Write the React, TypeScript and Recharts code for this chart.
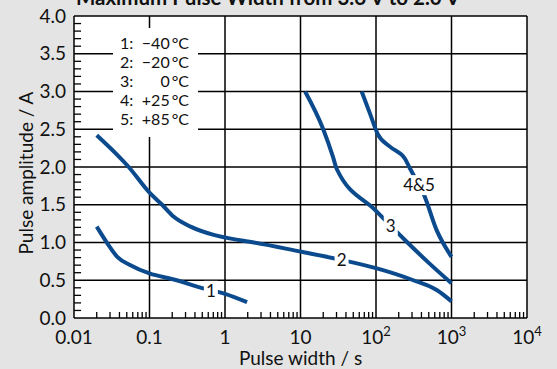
import React from 'react';
import {
  LineChart, Line, XAxis, YAxis, CartesianGrid, ReferenceDot, ReferenceLine, Customized,
} from 'recharts';

// pulse width in s, amplitude in A
const curve1 = [
  { x: 0.02, y: 1.21 }, { x: 0.0276, y: 0.99 }, { x: 0.0374, y: 0.81 },
  { x: 0.056, y: 0.7 }, { x: 0.1, y: 0.59 }, { x: 0.21, y: 0.51 },
  { x: 0.53, y: 0.39 }, { x: 1, y: 0.32 }, { x: 1.96, y: 0.21 },
];
const curve2 = [
  { x: 0.02, y: 2.42 }, { x: 0.0357, y: 2.18 }, { x: 0.053, y: 2.0 },
  { x: 0.1, y: 1.66 }, { x: 0.147, y: 1.5 }, { x: 0.21, y: 1.34 },
  { x: 0.35, y: 1.21 }, { x: 0.71, y: 1.1 }, { x: 1.58, y: 1.03 },
  { x: 2.41, y: 1.0 }, { x: 10, y: 0.88 }, { x: 35, y: 0.77 },
  { x: 100, y: 0.66 }, { x: 312, y: 0.5 }, { x: 637, y: 0.37 }, { x: 1000, y: 0.22 },
];
const curve3 = [
  { x: 11.5, y: 3.0 }, { x: 20, y: 2.5 }, { x: 27, y: 2.13 }, { x: 30, y: 1.98 },
  { x: 100, y: 1.42 }, { x: 157, y: 1.22 }, { x: 255, y: 1.01 },
  { x: 500, y: 0.73 }, { x: 1000, y: 0.46 },
];
const curve45 = [
  { x: 64.6, y: 3.0 }, { x: 83, y: 2.71 }, { x: 105, y: 2.44 }, { x: 153, y: 2.27 },
  { x: 242, y: 2.11 }, { x: 282, y: 1.98 }, { x: 372, y: 1.76 }, { x: 424, y: 1.65 },
  { x: 637, y: 1.16 }, { x: 1000, y: 0.81 },
];

// curve labels sitting on the lines
const curveLabels = [
  { x: 0.65, y: 0.36, text: '1' },
  { x: 35, y: 0.77, text: '2' },
  { x: 157, y: 1.22, text: '3' },
  { x: 372, y: 1.76, text: '4&5' },
];

const legendRows = [
  { key: '1:', temp: '\u221240\u2009\u00b0C' },
  { key: '2:', temp: '\u221220\u2009\u00b0C' },
  { key: '3:', temp: '0\u2009\u00b0C' },
  { key: '4:', temp: '+25\u2009\u00b0C' },
  { key: '5:', temp: '+85\u2009\u00b0C' },
];

const xTicks = [0.01, 0.1, 1, 10, 100, 1000, 10000];
const xTickLabels = ['0.01', '0.1', '1', '10', '10^2', '10^3', '10^4'];
const yTicks = [0, 0.5, 1, 1.5, 2, 2.5, 3, 3.5, 4];

// minor ticks (drawn inward from the bottom and left frame)
const xMinor = xTicks.slice(0, -1).flatMap((d) => [2, 3, 4, 5, 6, 7, 8, 9].map((m) => m * d));
const yMinor = Array.from({ length: 39 }, (_, i) => (i + 1) / 10).filter((v) => !yTicks.includes(Math.round(v * 10) / 10));
const X_TICK_LEN = 0.08; // in A
const Y_TICK_END = 0.0124; // in s (about 7 px from the left frame)

const FONT = 'Lato, sans-serif';
const BLUE = '#0b4a8c';

const XTick = (props: any) => {
  const { x, y, payload } = props;
  const label = xTickLabels[xTicks.indexOf(payload.value)] ?? '';
  const [base, sup] = label.split('^');
  return (
    <text x={x} y={y + 26} textAnchor="middle" fontSize={19} fill="#111" fontFamily={FONT}>
      {base}
      {sup && <tspan dy={-8} fontSize={13}>{sup}</tspan>}
    </text>
  );
};

const LabelMark = (text: string) => (props: any) => {
  const { cx, cy } = props;
  const w = text.length * 10 + 4;
  return (
    <g>
      <rect x={cx - w / 2} y={cy - 10} width={w} height={20} fill="#fff" />
      <text x={cx} y={cy + 6} textAnchor="middle" fontSize={17} fill="#111" fontFamily={FONT}>{text}</text>
    </g>
  );
};

const Decorations = () => (
  <g fontFamily={FONT} fill="#111">
    <text x={268} y={5} textAnchor="middle" fontSize={20.5} fontWeight="bold">
      Maximum Pulse Width from 3.6 V to 2.0 V
    </text>
    <text x={33} y={173} textAnchor="middle" fontSize={19} transform="rotate(-90 33 173)">
      Pulse amplitude / A
    </text>
    <rect x={113} y={28} width={85} height={109} fill="#fff" />
    {legendRows.map((r, i) => (
      <g key={r.key} fontSize={16}>
        <text x={120} y={49 + i * 19}>{r.key}</text>
        <text x={189} y={49 + i * 19} textAnchor="end">{r.temp}</text>
      </g>
    ))}
  </g>
);

export default function App() {
  return (
    <div style={{ position: 'absolute', left: 0, top: 0, width: 557, height: 369, background: '#e3e4e3' }}>
      <LineChart width={557} height={369}
        margin={{ top: 16, right: 30, bottom: 0, left: 14 }}>
        <CartesianGrid xAxisId="main" yAxisId="main" fill="#fff" stroke="#000" strokeWidth={1.5} />
        <XAxis xAxisId="main" dataKey="x" type="number" scale="log" domain={[0.01, 10000]}
          ticks={xTicks} allowDataOverflow height={51} axisLine={false}
          tickLine={false} tickSize={0} tickMargin={0} tick={<XTick />}
          label={{ value: 'Pulse width / s', position: 'insideBottom', offset: 4, fontSize: 19, fill: '#111', fontFamily: FONT }} />
        <YAxis yAxisId="main" type="number" domain={[0, 4]} ticks={yTicks} width={60}
          axisLine={false} tickLine={false} tickSize={0} tickMargin={8}
          tick={{ fontSize: 19, fill: '#111', fontFamily: FONT }}
          tickFormatter={(v) => v.toFixed(1)} />
        {xMinor.map((m) => (
          <ReferenceLine key={`xm${m}`} xAxisId="main" yAxisId="main"
            segment={[{ x: m, y: 0 }, { x: m, y: X_TICK_LEN }]} stroke="#000" strokeWidth={1.3} />
        ))}
        {yMinor.map((v) => (
          <ReferenceLine key={`ym${v}`} xAxisId="main" yAxisId="main"
            segment={[{ x: 0.01, y: v }, { x: Y_TICK_END, y: v }]} stroke="#000" strokeWidth={1.3} />
        ))}
        <Customized component={Decorations} />
        {[curve1, curve2, curve3, curve45].map((c, i) => (
          <Line key={i} xAxisId="main" yAxisId="main" data={c} dataKey="y" type="monotone"
            stroke={BLUE} strokeWidth={4} dot={false} isAnimationActive={false} />
        ))}
        {curveLabels.map((l) => (
          <ReferenceDot key={l.text} xAxisId="main" yAxisId="main" x={l.x} y={l.y}
            shape={LabelMark(l.text)} ifOverflow="visible" />
        ))}
      </LineChart>
    </div>
  );
}
